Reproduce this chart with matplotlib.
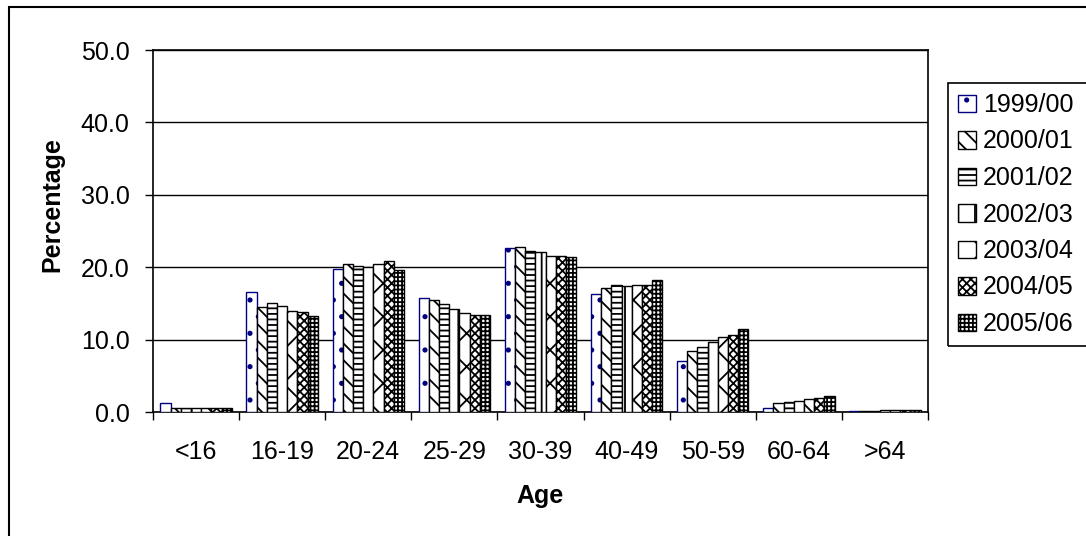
import numpy as np
import matplotlib
matplotlib.use('Agg')
import matplotlib.pyplot as plt
from matplotlib.patches import Rectangle

plt.rcParams['font.family'] = ['Liberation Sans', 'DejaVu Sans']
plt.rcParams['hatch.linewidth'] = 1.3

# age groups and yearly shares (%)
ages = ['<16', '16-19', '20-24', '25-29', '30-39', '40-49', '50-59', '60-64', '>64']
years = ['1999/00', '2000/01', '2001/02', '2002/03', '2003/04', '2004/05', '2005/06']

y1999 = [1.3, 16.6, 19.8, 15.8, 22.7, 16.3, 7.0, 0.5, 0.2]
y2000 = [0.5, 14.5, 20.4, 15.5, 22.8, 17.1, 8.4, 1.2, 0.2]
y2001 = [0.6, 15.1, 20.1, 14.9, 22.2, 17.5, 9.0, 1.4, 0.2]
y2002 = [0.5, 14.6, 20.0, 14.2, 22.1, 17.4, 9.7, 1.5, 0.3]
y2003 = [0.5, 14.0, 20.5, 13.7, 21.6, 17.6, 10.3, 1.8, 0.3]
y2004 = [0.6, 13.8, 20.8, 13.4, 21.6, 17.6, 10.6, 2.0, 0.3]
y2005 = [0.6, 13.2, 19.6, 13.4, 21.4, 18.2, 11.4, 2.2, 0.3]
series = [y1999, y2000, y2001, y2002, y2003, y2004, y2005]

hatches = ['.', '\\\\', '---', '|', 'x', 'xxxx', '++++']
edges = ['#000080', 'k', 'k', 'k', 'k', 'k', 'k']

FS = 18

fig = plt.figure(figsize=(10.86, 5.36), dpi=100)
W, H = 1086, 536
ax = fig.add_axes([153 / W, 1 - 412 / H, (928 - 153) / W, (412 - 50) / H])

x = np.arange(len(ages))
bw = 0.83 / len(years)
for i, (vals, yr) in enumerate(zip(series, years)):
    off = (i - (len(years) - 1) / 2) * bw
    ax.bar(x + off, vals, bw, color='white', edgecolor=edges[i],
           hatch=hatches[i], linewidth=1.0, label=yr, zorder=3)

ax.set_xlim(-0.5, len(ages) - 0.5)
ax.set_ylim(0, 50)
ax.set_yticks(np.arange(0, 51, 10))
ax.set_yticklabels(['%.1f' % v for v in np.arange(0, 51, 10)])
ax.yaxis.grid(True, color='k', linewidth=1.0, zorder=0)
ax.set_axisbelow(True)

ax.set_xticks(x)
ax.set_xticklabels(ages)
ax.set_xticks(np.arange(-0.5, len(ages), 1), minor=True)
ax.tick_params(axis='x', which='major', length=0, pad=20, labelsize=FS)
ax.tick_params(axis='x', which='minor', length=6, width=1.0, direction='out')
ax.tick_params(axis='y', length=6, width=1.0, direction='out', pad=11, labelsize=FS)

for s in ax.spines.values():
    s.set_linewidth(1.2)
    s.set_color('k')

fig.text(540 / W, 1 - 496 / H, 'Age', ha='center', va='center',
         fontsize=FS, fontweight='bold')
fig.text(52 / W, 1 - 205 / H, 'Percentage', ha='center', va='center',
         rotation=90, fontsize=FS, fontweight='bold')

leg = fig.legend(loc='upper left', bbox_to_anchor=(948 / W, 1 - 83 / H),
                 fontsize=FS, frameon=False,
                 borderpad=0.4, labelspacing=0.5, handlelength=0.7,
                 handleheight=0.7, handletextpad=0.3, borderaxespad=0)

# legend box runs off the right edge, so draw it by hand
fig.canvas.draw()
bb = leg.get_window_extent().transformed(fig.transFigure.inverted())
fig.patches.append(Rectangle((bb.x0, bb.y0), 0.5, bb.height,
                             transform=fig.transFigure, fill=False,
                             edgecolor='k', linewidth=1.2))

# chart border
fig.patches.append(Rectangle((9 / W, -0.05), 1.2, 1 - 7 / H + 0.05,
                             transform=fig.transFigure, fill=False,
                             edgecolor='k', linewidth=1.5))

fig.savefig('out.png', dpi=100)
